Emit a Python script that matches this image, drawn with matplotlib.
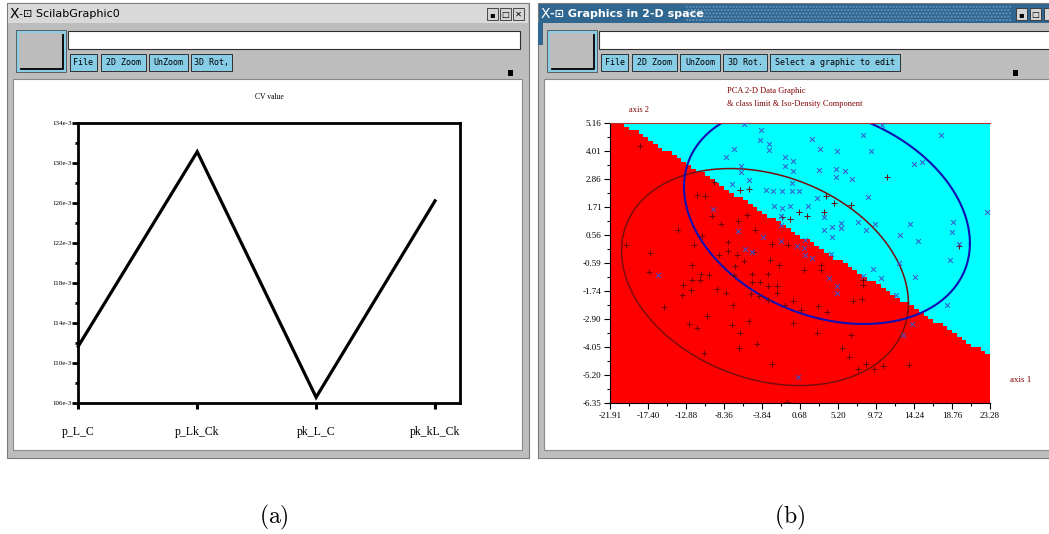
import numpy as np
import matplotlib.pyplot as plt
from matplotlib.patches import Rectangle
from matplotlib.colors import ListedColormap

plt.rcParams['mathtext.fontset'] = 'cm'

# ----------------------------------------------------------------------
# data, panel (a): CV value per model
# ----------------------------------------------------------------------
cv_labels = ['p_L_C', 'p_Lk_Ck', 'pk_L_C', 'pk_kL_Ck']
cv_values = [111.7e-3, 131.1e-3, 106.6e-3, 126.2e-3]
cv_yticks = [106e-3, 110e-3, 114e-3, 118e-3, 122e-3, 126e-3, 130e-3, 134e-3]

# ----------------------------------------------------------------------
# data, panel (b): PCA plane, two classes
# ----------------------------------------------------------------------
pca_xticks = [-21.91, -17.40, -12.88, -8.36, -3.84, 0.68, 5.20, 9.72, 14.24, 18.76, 23.28]
pca_yticks = [5.16, 4.01, 2.86, 1.71, 0.56, -0.59, -1.74, -2.90, -4.05, -5.20, -6.35]

class1_x = [-5.94, -3.96, -4.07, -3.00, -3.00, -7.20, -8.15, -1.10, -0.15, -6.33, -1.10, -0.19,
            -6.33, -5.38, -7.37, -0.23, -3.32, -2.47, -1.46, -0.30, 0.56, -2.44, -1.46, -0.47,
            1.58, -9.70, -1.52, -1.57, -6.65, -3.75, -1.58, 0.29, -5.86, -5.06, 10.40, 8.21,
            17.42, 2.11, 3.06, 5.08, 9.16, 2.94, 4.93, 6.03, 4.93, 6.90, 14.24, 15.23, 8.73,
            2.67, 3.50, 7.62, 9.60, 5.52, 5.52, 4.49, 3.54, 8.53, 13.76, 4.45, 12.57, 14.75,
            18.72, 22.98, 1.28, 4.37, 18.52, 1.20, 1.28, 2.15, 18.84, 19.59, 18.20, 4.13, 5.08,
            5.08, 8.21, 9.40, 10.28, 12.10, 14.36, 13.97, 12.90, 0.39, -16.24, 12.49]
class1_y = [5.15, 4.88, 4.46, 4.32, 4.05, 4.09, 3.79, 3.79, 3.60, 3.42, 3.39, 3.19,
            3.16, 2.83, 2.67, 2.69, 2.42, 2.38, 2.39, 2.39, 2.36, 1.74, 1.66, 1.74,
            1.74, 1.62, 1.33, 0.98, 0.75, 0.47, 0.31, 0.13, -0.01, -0.13, 5.10, 4.67,
            4.67, 4.51, 4.10, 4.04, 4.04, 3.23, 3.27, 3.21, 2.94, 2.87, 3.49, 3.57, 2.12,
            2.07, 1.30, 1.09, 1.02, 1.06, 0.86, 0.89, 0.79, 0.79, 1.02, 0.47, 0.56, 0.33,
            0.71, 1.50, 0.38, -0.21, -0.47, 0.03, -0.24, -0.38, 1.10, 0.20, -2.31, -1.20, -1.54,
            -1.82, -1.13, -0.82, -1.20, -1.89, -1.16, -3.09, -3.55, -5.27, -1.09, -0.57]

class2_x = [-18.38, -9.51, -6.45, -5.38, -11.60, -10.61, -9.74, -8.67, -6.65, -5.62, -1.49, -0.50,
            0.60, -13.82, -10.93, -11.92, -7.84, -4.67, -2.68, -0.71, -20.04, -17.15, -8.95, -7.84,
            -6.84, -2.88, 10.99, 3.78, 4.76, 6.75, 1.55, 3.57, 19.63, -17.24, -12.12, -11.09,
            -10.14, -13.19, -12.19, -11.17, -12.28, -13.31, -9.15, -8.15, -7.04, -5.97, -7.13, -4.99,
            -1.81, -3.08, -5.06, -4.07, -3.08, -2.09, -2.09, -5.14, -4.19, -3.08, -1.10, -0.11,
            -15.45, -10.37, -12.52, -11.60, -7.32, -7.44, -5.38, -6.45, -6.57, -4.47, -10.70, -2.61,
            -0.18, -0.90, 1.16, 3.18, 3.18, 8.21, 8.21, 7.02, 8.02, 2.86, 3.93, 2.67,
            6.71, 5.64, 6.51, 7.55, 8.53, 9.52, 10.52, 13.68, -4.90, 0.80]
class2_y = [4.24, 2.75, 2.41, 2.46, 2.20, 2.16, 1.34, 1.02, 1.13, 1.40, 1.31, 1.23,
            1.53, 0.79, 0.53, 0.17, 0.28, 0.76, 0.20, 0.14, 0.17, -0.17, -0.24, -0.08,
            -0.24, -0.45, 2.94, 2.16, 1.88, 1.79, 1.33, 1.51, 0.13, -0.97, -0.68, -1.02,
            -1.09, -1.47, -1.27, -1.29, -1.68, -1.91, -1.64, -1.82, -0.72, -0.49, -1.06, -1.03,
            -0.68, -1.02, -1.36, -1.36, -1.54, -1.54, -1.82, -1.86, -1.95, -2.09, -2.30, -2.13,
            -2.40, -2.77, -3.09, -3.25, -2.32, -3.12, -2.97, -3.47, -4.08, -3.90, -4.28, -4.73,
            -3.05, -6.30, -0.88, -0.68, -0.86, -1.27, -1.47, -2.16, -2.05, -2.36, -2.61, -3.47,
            -3.53, -4.08, -4.46, -4.93, -4.73, -4.94, -4.83, -4.79, -0.12, -2.53]

# class limit: two points on the separating line
limit_x = [-20.36, 23.28]
limit_y = [5.15, -4.41]

# iso-density contours: centre x, centre y, x half-width, y half-height, phase (deg)
iso_class1 = (3.89, 1.39, 17.0, 4.48, 105)
iso_class2 = (-3.48, -1.16, 17.06, 4.46, 104)

# ----------------------------------------------------------------------
W, H = 1049, 534
fig = plt.figure(figsize=(W / 100, H / 100), dpi=100)

bg = fig.add_axes([0, 0, 1, 1])
bg.set_xlim(0, W)
bg.set_ylim(H, 0)
bg.axis('off')


def px_axes(x, y, w, h):
    return fig.add_axes([x / W, 1 - (y + h) / H, w / W, h / H])


def draw_window(x0, x1, title, bar_color, text_color, buttons, field_x1, sq_x, ctrl_x):
    w = x1 - x0
    bg.add_patch(Rectangle((x0, 3), w, 455, fc='#bdbdbd', ec='#7a7a7a', lw=0.8))
    bg.add_patch(Rectangle((x0 + 1, 4), w - 2, 19, fc=bar_color, ec='none'))
    bg.text(x0 + 3, 14, 'X', fontsize=10, color=text_color, va='center', ha='left',
            family='DejaVu Sans')
    bg.text(x0 + 12, 14, '-\u22a1 ' + title, fontsize=8, color=text_color, va='center',
            ha='left', family='DejaVu Sans', fontweight='bold' if text_color == 'white' else 'normal')
    for cx, glyph in zip(ctrl_x, ['\u25aa', '\u25a1', '\u2715']):
        bg.add_patch(Rectangle((cx, 8), 11, 12, fc='#d4d4d4', ec='#303030', lw=0.6))
        if cx + 9 < W:
            bg.text(cx + 5.5, 14.5, glyph, fontsize=6, ha='center', va='center',
                    family='DejaVu Sans', fontweight='bold')
    # big square button
    bg.add_patch(Rectangle((x0 + 9, 30), 50, 42, fc='#87cde6', ec='#505050', lw=0.6))
    bg.add_patch(Rectangle((x0 + 12, 33), 44, 36, fc='#bcbcbc', ec='none'))
    bg.plot([x0 + 14, x0 + 56, x0 + 56], [68.5, 68.5, 35], color='black', lw=1.3)
    # text field
    bg.add_patch(Rectangle((x0 + 61, 31), field_x1 - x0 - 61, 18, fc='white', ec='#303030', lw=0.8))
    for bx, bw, lab in buttons:
        bg.add_patch(Rectangle((bx, 54), bw, 17, fc='#87cde6', ec='#303030', lw=0.7))
        bg.text(bx + bw / 2, 62.5, lab, fontsize=6, ha='center', va='center',
                family='DejaVu Sans Mono')
    bg.add_patch(Rectangle((sq_x, 70), 5, 6, fc='black', ec='none'))
    # drawing canvas
    bg.add_patch(Rectangle((x0 + 6, 79), w - 13, 371, fc='white', ec='#8a8a8a', lw=0.8))


draw_window(7, 529, 'ScilabGraphic0', '#d9d9d9', 'black',
            [(70, 27, 'File'), (101, 45, '2D Zoom'), (149, 39, 'UnZoom'), (191, 41, '3D Rot,')],
            520, 508, [487, 500, 513])
draw_window(538, 1065, 'Graphics in 2-D space', '#2f6791', 'white',
            [(601, 27, 'File'), (632, 45, '2D Zoom'), (680, 40, 'UnZoom'),
             (723, 44, '3D Rot.'), (770, 130, 'Select a graphic to edit')],
            1060, 1013, [1016, 1030, 1044])
bg.add_patch(Rectangle((686, 6), 325, 15, fc='none', ec='#6b98bd', hatch='.....', lw=0))
bg.add_patch(Rectangle((538, 23), 5, 22, fc='#2f6791', ec='none'))

# ----------------------------------------------------------------------
# panel (a): CV value line chart
# ----------------------------------------------------------------------
ax1 = px_axes(78.3, 122.7, 381.7, 280.6)
xs = np.arange(len(cv_labels))
ax1.plot(xs, cv_values, color='black', lw=2.3, solid_joinstyle='miter', clip_on=False)
ax1.set_xlim(0, 3.21)
ax1.set_ylim(cv_yticks[0], cv_yticks[-1])
ax1.set_xticks(xs)
ax1.set_xticklabels(cv_labels, family='Liberation Serif', fontsize=8.5)
ax1.set_yticks(cv_yticks)
ax1.set_yticklabels([f'{round(v * 1000)}e-3' for v in cv_yticks],
                    family='Liberation Serif', fontsize=5)
ax1.set_yticks([(a + b) / 2 for a, b in zip(cv_yticks[:-1], cv_yticks[1:])], minor=True)
ax1.tick_params(axis='y', which='major', direction='out', length=4, width=2, pad=0.5)
ax1.tick_params(axis='y', which='minor', direction='out', length=2, width=2)
ax1.tick_params(axis='x', direction='out', length=4, width=2.2, pad=12)
for s in ax1.spines.values():
    s.set_linewidth(2)
ax1.text(0.5, 1 + 25.5 / 280.6, 'CV value', transform=ax1.transAxes, ha='center',
         va='center', fontsize=5.5, family='Liberation Serif')

# ----------------------------------------------------------------------
# panel (b): PCA plane with class limit and iso-density ellipses
# ----------------------------------------------------------------------
ax2 = px_axes(610, 123.3, 380, 280)
x0, x1 = pca_xticks[0], pca_xticks[-1]
y0, y1 = pca_yticks[-1], pca_yticks[0]
gx = np.linspace(x0, x1, 81)
gy = np.linspace(y0, y1, 81)
cx_, cy_ = np.meshgrid((gx[:-1] + gx[1:]) / 2, (gy[:-1] + gy[1:]) / 2)
slope = (limit_y[1] - limit_y[0]) / (limit_x[1] - limit_x[0])
zone = (cy_ > limit_y[0] + slope * (cx_ - limit_x[0])).astype(int)
ax2.pcolormesh(gx, gy, zone, cmap=ListedColormap(['#ff0000', '#00ffff']), shading='flat')

t = np.linspace(0, 2 * np.pi, 300)
for (ecx, ecy, ea, eb, ph), col, lw in [(iso_class2, '#7a0c0c', 1.1), (iso_class1, '#1010b4', 1.5)]:
    ax2.plot(ecx + ea * np.cos(t), ecy + eb * np.cos(t + np.radians(ph)), color=col, lw=lw)

ax2.scatter(class2_x, class2_y, marker='+', s=18, color='#6a0808', lw=0.7, zorder=3)
ax2.scatter(class1_x, class1_y, marker='x', s=12, color='#3a55cc', lw=0.7, zorder=4)

ax2.set_xlim(x0, x1)
ax2.set_ylim(y0, y1)
ax2.set_xticks(pca_xticks)
ax2.set_xticklabels([f'{v:.2f}' for v in pca_xticks], family='Liberation Serif', fontsize=6.5)
ax2.set_yticks(pca_yticks)
ax2.set_yticklabels([f'{v:.2f}' for v in pca_yticks], family='Liberation Serif', fontsize=6.5)
ax2.set_xticks([(a + b) / 2 for a, b in zip(pca_xticks[:-1], pca_xticks[1:])], minor=True)
ax2.set_yticks([(a + b) / 2 for a, b in zip(pca_yticks[:-1], pca_yticks[1:])], minor=True)
ax2.tick_params(which='major', direction='out', length=4, width=0.8, pad=2)
ax2.tick_params(which='minor', direction='out', length=2, width=0.8)
ax2.spines['right'].set_visible(False)
ax2.spines['top'].set_color('#b03030')
ax2.spines['top'].set_linewidth(0.8)
ax2.spines['left'].set_linewidth(0.8)
ax2.spines['bottom'].set_linewidth(0.8)

dark_red = '#800000'
bg.text(727, 91, 'PCA 2-D Data Graphic', fontsize=6, color=dark_red, family='Liberation Serif',
        ha='left', va='center')
bg.text(727, 104, '& class limit & Iso-Density Component', fontsize=6, color=dark_red,
        family='Liberation Serif', ha='left', va='center')
bg.text(629, 110, 'axis 2', fontsize=6, color=dark_red, family='Liberation Serif',
        ha='left', va='center')
bg.text(1010, 380, 'axis 1', fontsize=6.5, color=dark_red, family='Liberation Serif',
        ha='left', va='center')

# captions
bg.text(274, 517, r'$\mathrm{(a)}$', fontsize=17, ha='center', va='center')
bg.text(790, 517, r'$\mathrm{(b)}$', fontsize=17, ha='center', va='center')

fig.savefig('out.png', dpi=100)
